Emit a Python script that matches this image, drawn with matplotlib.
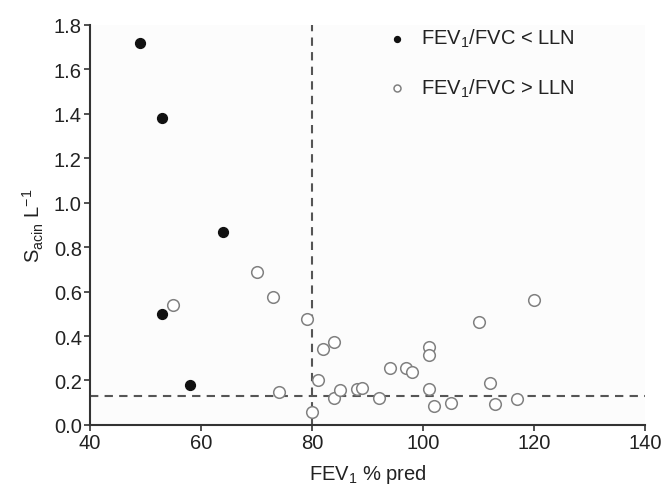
import matplotlib
matplotlib.use("Agg")
import matplotlib.pyplot as plt

plt.rcParams['font.family'] = ['Liberation Sans', 'DejaVu Sans']
plt.rcParams['mathtext.fontset'] = 'custom'
plt.rcParams['mathtext.rm'] = 'Liberation Sans'
plt.rcParams['mathtext.it'] = 'Liberation Sans'

# Data
low_x = [49, 53, 64, 53, 58]
low_y = [1.72, 1.38, 0.87, 0.50, 0.18]

high_x = [55, 70, 73, 79, 74, 80, 81, 82, 84, 84, 85, 88, 89, 92, 94, 97, 98,
          101, 101, 101, 102, 105, 110, 112, 113, 117, 120]
high_y = [0.54, 0.69, 0.575, 0.475, 0.15, 0.06, 0.20, 0.34, 0.375, 0.12, 0.155,
          0.16, 0.165, 0.12, 0.255, 0.255, 0.24, 0.35, 0.315, 0.16, 0.085, 0.10,
          0.465, 0.19, 0.095, 0.115, 0.56]

fev1_cut = 80
sacin_cut = 0.13

xticks = [40, 60, 80, 100, 120, 140]
yticks = [0.0, 0.2, 0.4, 0.6, 0.8, 1.0, 1.2, 1.4, 1.6, 1.8]

fig = plt.figure(figsize=(6.63, 4.89), dpi=100)
ax = fig.add_axes([0.136, 0.129, 0.837, 0.818])
ax.set_facecolor('#fcfcfc')

ax.axvline(fev1_cut, color='#555555', lw=1.5, ls=(0, (4, 3)), zorder=1)
ax.axhline(sacin_cut, color='#555555', lw=1.5, ls=(0, (4, 3)), zorder=1)

ax.scatter(low_x, low_y, s=50, color='#111111', zorder=3,
           label=r'FEV$_1$/FVC < LLN')
ax.scatter(high_x, high_y, s=70, facecolor='white', edgecolor='#808080',
           linewidth=1.1, zorder=3, label=r'FEV$_1$/FVC > LLN')

ax.set_xlim(40, 140)
ax.set_ylim(0, 1.8)
ax.set_xticks(xticks)
ax.set_yticks(yticks)
ax.set_yticklabels([f'{v:.1f}' for v in yticks])
ax.tick_params(labelsize=14.5, color='#333333', length=4, width=1.2,
               labelcolor='#222222', pad=2)

for s in ['top', 'right']:
    ax.spines[s].set_visible(False)
for s in ['left', 'bottom']:
    ax.spines[s].set_color('#333333')
    ax.spines[s].set_linewidth(1.5)

ax.set_xlabel(r'FEV$_1$ % pred', fontsize=14.5, color='#222222', labelpad=7)
ax.set_ylabel(r'S$_{acin}$ L$^{-1}$', fontsize=14.5, color='#222222', labelpad=6)

ax_w_px = 0.837 * 663
leg = ax.legend(loc='upper left', bbox_to_anchor=((387 - 90) / ax_w_px, 0.995),
                frameon=False, fontsize=14.5, handletextpad=0.7,
                labelspacing=1.35, markerscale=0.6, handlelength=1.0,
                borderaxespad=0, borderpad=0)
for t in leg.get_texts():
    t.set_color('#222222')

fig.savefig('out.png', dpi=100)
